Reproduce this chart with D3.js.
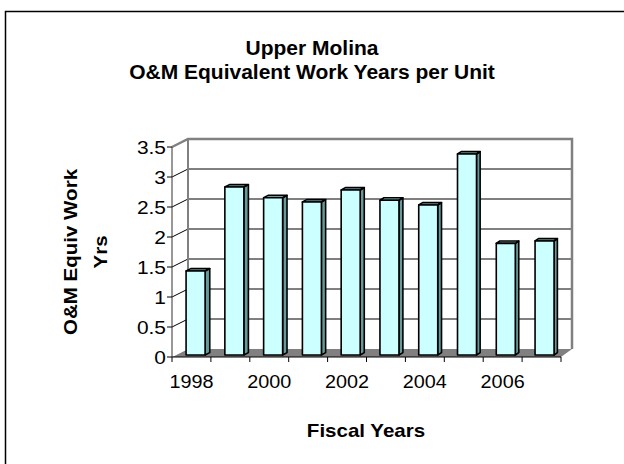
<!DOCTYPE html>
<html>
<head>
<meta charset="utf-8">
<script src="https://cdn.jsdelivr.net/npm/d3@7"></script>
<style>
  body { margin: 0; background: #fff; }
  text { font-family: "Liberation Sans", Arial, sans-serif; fill: #000; }
</style>
</head>
<body>
<div id="chart"></div>
<script>
// data
var years = [1998, 1999, 2000, 2001, 2002, 2003, 2004, 2005, 2006, 2007];
var workYears = [1.40, 2.80, 2.62, 2.55, 2.75, 2.58, 2.50, 3.35, 1.86, 1.90];
var yTicks = [0, 0.5, 1, 1.5, 2, 2.5, 3, 3.5];
var titleLines = ["Upper Molina", "O&M Equivalent Work Years per Unit"];
var yTitleLines = ["O&M Equiv Work", "Yrs"];

var W = 624, H = 464;

var svg = d3.select("#chart").append("svg")
    .attr("width", W)
    .attr("height", H);

svg.append("rect").attr("width", W).attr("height", H).attr("fill", "#fff");

// outer frame (runs off the right and bottom edge)
svg.append("rect")
    .attr("x", 5.5).attr("y", 11.5)
    .attr("width", 640).attr("height", 480)
    .attr("fill", "none")
    .attr("stroke", "#000")
    .attr("stroke-width", 1.5);

// stretch text a bit wider, like the original render
function stretch(sel, k) {
    sel.each(function() {
        var len = this.getComputedTextLength();
        d3.select(this).attr("textLength", len * k).attr("lengthAdjust", "spacingAndGlyphs");
    });
}

// front scales, back scales (depth)
var y = d3.scaleLinear().domain([0, 3.5]).range([357, 147]);
var xF = d3.scaleLinear().domain([0, years.length]).range([172, 561]);
var xB = d3.scaleLinear().domain([0, years.length]).range([188, 572]);
var depthDy = -8;

function proj(i, v, z) {
    return [xF(i) + z * (xB(i) - xF(i)), y(v) + z * depthDy];
}
function poly(pts) {
    return "M" + pts.map(function(p) { return p[0] + "," + p[1]; }).join("L") + "Z";
}

var n = years.length;
var yMax = 3.5;

// floor
svg.append("path")
    .attr("d", poly([proj(0, 0, 0), proj(n, 0, 0), proj(n, 0, 1), proj(0, 0, 1)]))
    .attr("fill", "#808080");

// left wall + back wall
svg.append("path")
    .attr("d", poly([proj(0, 0, 0), proj(0, yMax, 0), proj(0, yMax, 1), proj(0, 0, 1)]))
    .attr("fill", "#fff");
svg.append("path")
    .attr("d", poly([proj(0, 0, 1), proj(0, yMax, 1), proj(n, yMax, 1), proj(n, 0, 1)]))
    .attr("fill", "#fff");

// gridlines on side + back wall
svg.append("g").selectAll("path")
    .data(yTicks.filter(function(t) { return t > 0 && t < yMax; }))
    .enter().append("path")
    .attr("d", function(t) {
        var a = proj(0, t, 0), b = proj(0, t, 1), c = proj(n, t, 1);
        return "M" + a + "L" + b + "L" + c;
    })
    .attr("fill", "none")
    .attr("stroke", "#000")
    .attr("stroke-width", 1);

// wall borders
var tl = proj(0, yMax, 0), btl = proj(0, yMax, 1), btr = proj(n, yMax, 1),
    bbr = proj(n, 0, 1), bbl = proj(0, 0, 1);
svg.append("path")
    .attr("d", "M" + tl + "L" + btl + "L" + btr + "L" + bbr)
    .attr("fill", "none")
    .attr("stroke", "#808080")
    .attr("stroke-width", 2.5);
svg.append("path")
    .attr("d", "M" + btl + "L" + bbl)
    .attr("fill", "none")
    .attr("stroke", "#808080")
    .attr("stroke-width", 2);

// bars
var z1 = 0.25, z2 = 0.55, a0 = 0.26, a1 = 0.75;
var bars = svg.append("g").selectAll("g")
    .data(workYears)
    .enter().append("g");

bars.append("path")
    .attr("d", function(v, i) {
        return poly([proj(i + a1, 0, z1), proj(i + a1, 0, z2), proj(i + a1, v, z2), proj(i + a1, v, z1)]);
    })
    .attr("fill", "#669999");
bars.append("path")
    .attr("d", function(v, i) {
        return poly([proj(i + a0, v, z1), proj(i + a1, v, z1), proj(i + a1, v, z2), proj(i + a0, v, z2)]);
    })
    .attr("fill", "#99CCCC");
bars.append("path")
    .attr("d", function(v, i) {
        return poly([proj(i + a0, 0, z1), proj(i + a1, 0, z1), proj(i + a1, v, z1), proj(i + a0, v, z1)]);
    })
    .attr("fill", "#CCFFFF");
bars.selectAll("path")
    .attr("stroke", "#000")
    .attr("stroke-width", 1.6)
    .attr("stroke-linejoin", "round");

// front axes
svg.append("line")
    .attr("x1", xF(0)).attr("x2", xF(0))
    .attr("y1", y(0)).attr("y2", y(yMax))
    .attr("stroke", "#333").attr("stroke-width", 1);
svg.append("line")
    .attr("x1", xF(0)).attr("x2", xF(n))
    .attr("y1", y(0)).attr("y2", y(0))
    .attr("stroke", "#000").attr("stroke-width", 1);

// y ticks and labels
var yt = svg.append("g").selectAll("g").data(yTicks).enter().append("g");
yt.append("line")
    .attr("x1", xF(0) - 5).attr("x2", xF(0))
    .attr("y1", function(t) { return y(t); })
    .attr("y2", function(t) { return y(t); })
    .attr("stroke", "#000");
yt.append("text")
    .attr("x", xF(0) - 6)
    .attr("y", function(t) { return y(t) + 7; })
    .attr("text-anchor", "end")
    .style("font-size", "19px")
    .text(function(t) { return t; });
stretch(yt.selectAll("text"), 1.1);

// x ticks and labels
svg.append("g").selectAll("line")
    .data(d3.range(n + 1))
    .enter().append("line")
    .attr("x1", function(i) { return xF(i); })
    .attr("x2", function(i) { return xF(i); })
    .attr("y1", y(0)).attr("y2", y(0) + 5)
    .attr("stroke", "#000");
var xl = svg.append("g").selectAll("text")
    .data(years.filter(function(d, i) { return i % 2 === 0; }))
    .enter().append("text")
    .attr("x", function(d) { return xF(years.indexOf(d) + 0.5); })
    .attr("y", 388)
    .attr("text-anchor", "middle")
    .style("font-size", "18px")
    .text(function(d) { return d; });
stretch(xl, 1.1);

// titles
var tt = svg.append("g").selectAll("text")
    .data(titleLines)
    .enter().append("text")
    .attr("x", 312)
    .attr("y", function(d, i) { return 55 + i * 24; })
    .attr("text-anchor", "middle")
    .style("font-size", "20px")
    .style("font-weight", "bold")
    .text(function(d) { return d; });
stretch(tt, 1.05);

var xt = svg.append("text")
    .attr("x", 366)
    .attr("y", 437)
    .attr("text-anchor", "middle")
    .style("font-size", "19px")
    .style("font-weight", "bold")
    .text("Fiscal Years");
stretch(xt, 1.08);

var ytl = svg.append("g").selectAll("text")
    .data(yTitleLines)
    .enter().append("text")
    .attr("transform", function(d, i) { return "translate(" + (77 + i * 30) + ",252) rotate(-90)"; })
    .attr("text-anchor", "middle")
    .style("font-size", "19px")
    .style("font-weight", "bold")
    .text(function(d) { return d; });
stretch(ytl, 1.08);
</script>
</body>
</html>
